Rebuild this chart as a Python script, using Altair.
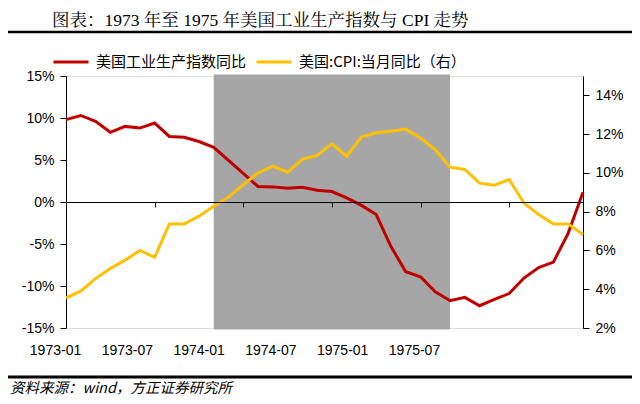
import altair as alt
import pandas as pd

# ---------------- data ----------------
months = [f"{y}-{m:02d}" for y in (1973, 1974, 1975) for m in range(1, 13)]

# 美国工业生产指数同比 (%), left axis
ip_yoy = [9.8, 10.3, 9.6, 8.3, 9.0, 8.8, 9.4, 7.8, 7.7, 7.2, 6.5, 4.95,
          3.4, 1.85, 1.8, 1.65, 1.75, 1.4, 1.25, 0.5, -0.4, -1.5, -5.3, -8.3,
          -8.9, -10.7, -11.75, -11.35, -12.35, -11.6, -10.9, -9.05, -7.8, -7.15, -3.7, 1.15]

# 美国:CPI:当月同比 (%), right axis
cpi_yoy = [3.55, 3.9, 4.55, 5.07, 5.5, 6.0, 5.65, 7.37, 7.37, 7.77, 8.28, 8.75,
           9.4, 10.0, 10.35, 10.04, 10.7, 10.9, 11.5, 10.86, 11.85, 12.07, 12.15, 12.26,
           11.8, 11.2, 10.3, 10.18, 9.47, 9.37, 9.66, 8.45, 7.85, 7.37, 7.37, 6.82]

series_names = ["美国工业生产指数同比", "美国:CPI:当月同比（右）"]
series_colors = ["#C00000", "#FFC000"]

recession_start = "1973-11"
recession_end = "1975-03"

tick_labels = ["1973-01", "1973-07", "1974-01", "1974-07", "1975-01", "1975-07"]
tick_months = ["1973-07", "1974-01", "1974-07", "1975-01", "1975-07"]

title_text = "图表：1973 年至 1975 年美国工业生产指数与 CPI 走势"
source_text = "资料来源：wind，方正证券研究所"

# ---------------- frames ----------------
idx = list(range(len(months)))
ip_df = pd.DataFrame({"idx": idx, "month": months, "value": ip_yoy, "series": series_names[0]})
cpi_df = pd.DataFrame({"idx": idx, "month": months, "value": cpi_yoy, "series": series_names[1]})
rec_df = pd.DataFrame({"start": [months.index(recession_start)], "end": [months.index(recession_end)]})
lab_df = pd.DataFrame({"k": list(range(len(tick_labels))), "label": tick_labels})
tick_vals = [months.index(m) for m in tick_months]

W, H = 517, 252
SANS = "Liberation Sans, Arial, sans-serif"
CJK = "Noto Sans CJK SC"

x_scale = alt.Scale(domain=[0, len(months) - 1], nice=False, zero=False)
color_scale = alt.Scale(domain=series_names, range=series_colors)

legend = alt.Legend(
    orient="none", legendX=-14, legendY=-33, direction="horizontal", title=None,
    symbolType="stroke", symbolSize=1225, symbolStrokeWidth=3,
    labelFont=CJK, labelFontSize=15, labelColor="black", labelOffset=6,
    columnPadding=3, padding=0, labelLimit=300,
)

rect = alt.Chart(rec_df).mark_rect(color="#A6A6A6").encode(
    x=alt.X("start:Q", scale=x_scale, axis=None),
    x2="end:Q",
    y=alt.value(-1.5),
    y2=alt.value(H + 1.5),
)

ip_line = alt.Chart(ip_df).mark_line(strokeWidth=3).encode(
    x=alt.X("idx:Q", scale=x_scale, axis=alt.Axis(
        orient="bottom", offset=-H / 2, values=tick_vals, labels=False, ticks=True,
        tickSize=5, tickColor="black", domainColor="black", domainWidth=1,
        grid=False, title=None, zindex=1)),
    y=alt.Y("value:Q", scale=alt.Scale(domain=[-15, 15], nice=False, zero=False),
            axis=alt.Axis(orient="left", values=[-15, -10, -5, 0, 5, 10, 15],
                          labelExpr="datum.value + '%'", title=None, grid=False,
                          tickSize=6, tickColor="black", domainColor="black",
                          labelFont=SANS, labelFontSize=14, labelColor="black",
                          labelPadding=6)),
    color=alt.Color("series:N", scale=color_scale, legend=legend),
)

cpi_line = alt.Chart(cpi_df).mark_line(strokeWidth=3).encode(
    x=alt.X("idx:Q", scale=x_scale, axis=None),
    y=alt.Y("value:Q", scale=alt.Scale(domain=[2, 15], nice=False, zero=False),
            axis=alt.Axis(orient="right", values=[2, 4, 6, 8, 10, 12, 14],
                          labelExpr="datum.value + '%'", title=None, grid=False,
                          tickSize=6, tickColor="black", domainColor="black",
                          labelFont=SANS, labelFontSize=14, labelColor="black",
                          labelPadding=6)),
    color=alt.Color("series:N", scale=color_scale, legend=legend),
)

labels = alt.Chart(lab_df).mark_text(font=SANS, fontSize=14, color="black",
                                     align="center", baseline="middle").encode(
    x=alt.X("k:Q", scale=alt.Scale(domain=[0.146, 7.347], nice=False, zero=False), axis=None),
    y=alt.value(275),
    text="label:N",
)

title = alt.Chart(pd.DataFrame({"t": [title_text]})).mark_text(
    font="Liberation Serif, Noto Serif CJK SC, Noto Sans CJK SC", fontSize=17.5,
    color="black", align="left", baseline="alphabetic").encode(
    x=alt.value(-14), y=alt.value(-50), text="t:N")

source = alt.Chart(pd.DataFrame({"t": [source_text]})).mark_text(
    font=CJK, fontSize=14.5, fontStyle="italic", color="black",
    align="left", baseline="alphabetic").encode(
    x=alt.value(-56), y=alt.value(317), text="t:N")

rule_top = alt.Chart(pd.DataFrame({"a": [0]})).mark_rule(color="black", strokeWidth=2.5).encode(
    x=alt.value(-58), x2=alt.value(566), y=alt.value(-44))
rule_bot = alt.Chart(pd.DataFrame({"a": [0]})).mark_rule(color="black", strokeWidth=3).encode(
    x=alt.value(-58), x2=alt.value(566), y=alt.value(301))

chart = alt.layer(rect, ip_line, cpi_line, labels, title, source, rule_top, rule_bot).resolve_scale(
    y="independent", x="independent"
).properties(
    width=W, height=H,
    autosize=alt.AutoSizeParams(type="none"),
    padding={"left": 58, "top": 68, "right": 49, "bottom": 68},
).configure_view(stroke=None).configure(background="white")

chart.save("out.html", embed_options={"renderer": "svg", "actions": False})
